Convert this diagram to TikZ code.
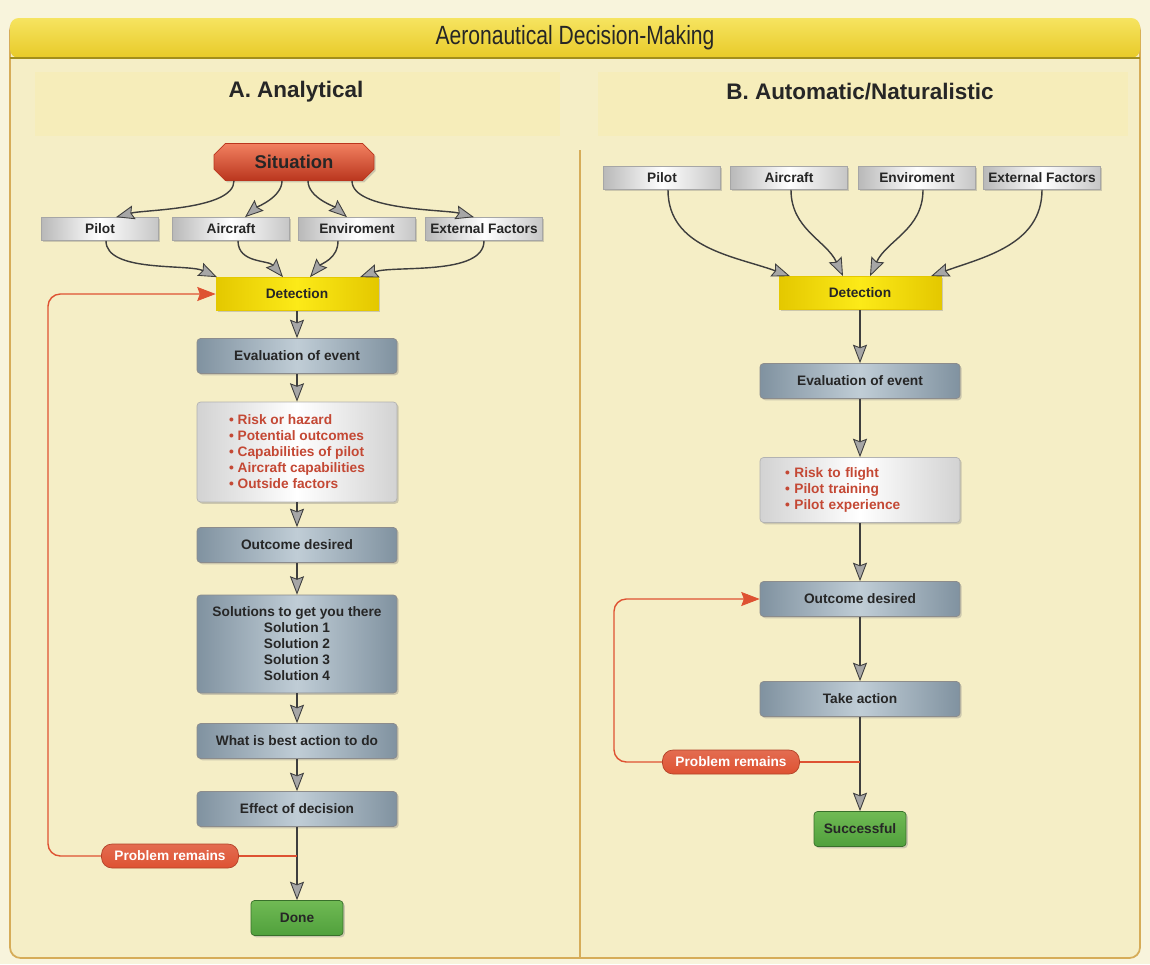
\documentclass[tikz,border=0pt]{standalone}
\usepackage{fontspec}
\setmainfont{Liberation Sans}
\usetikzlibrary{arrows.meta,shapes.misc,shadows,calc}

\definecolor{pagebg}{RGB}{248,244,220}
\definecolor{cream}{RGB}{245,238,198}
\definecolor{band}{RGB}{246,237,186}
\definecolor{frameline}{RGB}{214,172,88}
\definecolor{headtop}{RGB}{246,228,96}
\definecolor{headbot}{RGB}{232,202,40}
\definecolor{steeldark}{RGB}{128,146,160}
\definecolor{steellight}{RGB}{192,205,214}
\definecolor{sitred}{RGB}{238,96,56}
\definecolor{sitdark}{RGB}{186,54,30}
\definecolor{detyellow}{RGB}{252,234,24}
\definecolor{detedge}{RGB}{228,200,0}
\definecolor{goodgreen}{RGB}{80,160,60}
\definecolor{goodlight}{RGB}{112,186,84}
\definecolor{loopred}{RGB}{222,82,50}
\definecolor{listred}{RGB}{196,72,52}
\definecolor{inkgrey}{RGB}{62,62,62}

\tikzset{
	txt/.style={font=\bfseries\fontsize{7.8}{9.1}\selectfont, text=black!85, align=center, inner sep=2pt},
	boxshadow/.style={drop shadow={shadow xshift=1pt, shadow yshift=-1pt, opacity=0.35}},
	steelbox/.style={txt, boxshadow, draw=black!45, line width=0.4pt, rounded corners=2pt, left color=steeldark, right color=steeldark, middle color=steellight, minimum width=4cm, minimum height=0.7cm},
	factorbox/.style={txt, boxshadow, draw=gray!70, line width=0.4pt, left color=gray!55, right color=gray!45, middle color=white, minimum width=2.34cm, minimum height=0.46cm},
	listbox/.style={txt, boxshadow, draw=gray!60, line width=0.4pt, rounded corners=2pt, left color=gray!35, right color=gray!35, middle color=white, minimum width=4cm, text=listred, align=left},
	detbox/.style={txt, boxshadow, draw=detedge, line width=0.4pt, left color=detedge, right color=detedge, middle color=detyellow, minimum width=3.24cm, minimum height=0.66cm},
	sitbox/.style={txt, boxshadow, chamfered rectangle, chamfered rectangle xsep=3pt, draw=sitdark, line width=0.4pt, top color=sitred!80!white, bottom color=sitdark, minimum width=3.2cm, minimum height=0.74cm, font=\bfseries\fontsize{10.5}{12}\selectfont},
	endbox/.style={txt, boxshadow, draw=goodgreen!70!black, line width=0.4pt, rounded corners=2pt, top color=goodlight, bottom color=goodgreen, minimum width=1.84cm, minimum height=0.7cm},
	probbox/.style={txt, text=white, draw=loopred!80!black, line width=0.4pt, rounded corners=6pt, top color=loopred!85!white, bottom color=loopred, minimum width=2.74cm, minimum height=0.48cm},
	headtxt/.style={font=\bfseries\fontsize{12.8}{15}\selectfont, text=black!85},
	flow/.style={draw=inkgrey, line width=0.8pt, -{Stealth[length=10.5pt, width=8pt, inset=1.5pt, line width=0.5pt, fill=gray!70]}},
	loopline/.style={draw=loopred, line width=0.8pt, rounded corners=7pt},
	looparrow/.style={loopline, -{Stealth[length=10.5pt, width=8pt, inset=1.5pt, line width=0.5pt, fill=loopred]}}
}

\begin{document}
\begin{tikzpicture}[x=0.02cm, y=-0.02cm]
	\useasboundingbox (0,0) rectangle (1150,964);
	\fill[pagebg] (0,0) rectangle (1150,964);
	\draw[frameline, line width=1pt, fill=cream, rounded corners=6pt] (10,20) rectangle (1140,958);
	\fill[band] (35,72) rectangle (560,136);
	\fill[band] (598,72) rectangle (1128,136);
	\shade[top color=headtop, bottom color=headbot, rounded corners=5pt] (10,18) rectangle (1140,58);
	\draw[headbot!70!black, line width=0.6pt] (10,58) -- (1140,58);
	\draw[frameline, line width=1pt] (580,150) -- (580,958);
	\node[font=\fontsize{15}{18}\selectfont, text=black!85] (title) at (575,38) {\scalebox{0.8}[1]{Aeronautical Decision-Making}};

	\node[headtxt] (headA) at (296,92) {A. Analytical};
	\node[sitbox] (sitA) at (294,162) {Situation};
	\node[factorbox] (pilotA) at (100,229) {Pilot};
	\node[factorbox] (aircraftA) at (231,229) {Aircraft};
	\node[factorbox] (envA) at (357,229) {Enviroment};
	\node[factorbox] (extA) at (484,229) {External Factors};
	\node[detbox] (detA) at (297,294) {Detection};
	\node[steelbox] (evalA) at (297,356) {Evaluation of event};
	\node[listbox, minimum height=2cm] (riskA) at (297,452) {\textbullet\ Risk or hazard\\ \textbullet\ Potential outcomes\\ \textbullet\ Capabilities of pilot\\ \textbullet\ Aircraft capabilities\\ \textbullet\ Outside factors};
	\node[steelbox] (outA) at (297,545) {Outcome desired};
	\node[steelbox, minimum height=1.96cm] (solA) at (297,644) {Solutions to get you there\\ Solution 1\\ Solution 2\\ Solution 3\\ Solution 4};
	\node[steelbox] (bestA) at (297,741) {What is best action to do};
	\node[steelbox] (effA) at (297,809) {Effect of decision};
	\node[probbox] (probA) at (170,856) {Problem remains};
	\node[endbox] (doneA) at (297,918) {Done};

	\draw[flow] ($(sitA.south)+(-60,0)$) to[out=-90, in=15, looseness=0.6] ($(pilotA.north)+(16,0)$);
	\draw[flow] ($(sitA.south)+(-12,0)$) to[out=-90, in=40, looseness=0.8] ($(aircraftA.north)+(14,0)$);
	\draw[flow] ($(sitA.south)+(14,0)$) to[out=-90, in=140, looseness=0.8] ($(envA.north)+(-10,0)$);
	\draw[flow] ($(sitA.south)+(58,0)$) to[out=-90, in=165, looseness=0.6] ($(extA.north)+(-10,0)$);
	\draw[flow] ($(pilotA.south)+(6,0)$) to[out=-90, in=155, looseness=0.7] ($(detA.north)+(-80,0)$);
	\draw[flow] ($(aircraftA.south)+(7,0)$) to[out=-90, in=130] ($(detA.north)+(-14,0)$);
	\draw[flow] ($(envA.south)+(-19,0)$) to[out=-90, in=50] ($(detA.north)+(13,0)$);
	\draw[flow] (extA.south) to[out=-90, in=20, looseness=0.7] ($(detA.north)+(63,0)$);
	\draw[flow] (detA) -- (evalA);
	\draw[flow] (evalA) -- (riskA);
	\draw[flow] (riskA) -- (outA);
	\draw[flow] (outA) -- (solA);
	\draw[flow] (solA) -- (bestA);
	\draw[flow] (bestA) -- (effA);
	\draw[flow] (effA) -- (doneA);
	\coordinate (brA) at (effA.south |- probA.east);
	\coordinate (turnA) at (48,856);
	\draw[loopline] (brA) -- (probA.east);
	\draw[looparrow] (probA.west) -- (turnA) |- (detA.west);

	\node[headtxt] (headB) at (860,92) {B. Automatic/Naturalistic};
	\node[factorbox] (pilotB) at (662,178) {Pilot};
	\node[factorbox] (aircraftB) at (789,178) {Aircraft};
	\node[factorbox] (envB) at (917,178) {Enviroment};
	\node[factorbox] (extB) at (1042,178) {External Factors};
	\node[detbox] (detB) at (860,293) {Detection};
	\node[steelbox] (evalB) at (860,381) {Evaluation of event};
	\node[listbox, minimum height=1.3cm, text width=3cm] (riskB) at (860,490) {\textbullet\ Risk to flight\\ \textbullet\ Pilot training\\ \textbullet\ Pilot experience};
	\node[steelbox] (outB) at (860,599) {Outcome desired};
	\node[steelbox] (actB) at (860,699) {Take action};
	\node[probbox] (probB) at (731,762) {Problem remains};
	\node[endbox] (succB) at (860,829) {Successful};

	\draw[flow] ($(pilotB.south)+(6,0)$) to[out=-90, in=160] ($(detB.north)+(-70,0)$);
	\draw[flow] ($(aircraftB.south)+(2,0)$) to[out=-90, in=115] ($(detB.north)+(-17,0)$);
	\draw[flow] ($(envB.south)+(6,0)$) to[out=-90, in=65] ($(detB.north)+(10,0)$);
	\draw[flow] (extB.south) to[out=-90, in=20] ($(detB.north)+(71,0)$);
	\draw[flow] (detB) -- (evalB);
	\draw[flow] (evalB) -- (riskB);
	\draw[flow] (riskB) -- (outB);
	\draw[flow] (outB) -- (actB);
	\draw[flow] (actB) -- (succB);
	\coordinate (brB) at (actB.south |- probB.east);
	\coordinate (turnB) at (614,762);
	\draw[loopline] (brB) -- (probB.east);
	\draw[looparrow] (probB.west) -- (turnB) |- (outB.west);
\end{tikzpicture}
\end{document}
